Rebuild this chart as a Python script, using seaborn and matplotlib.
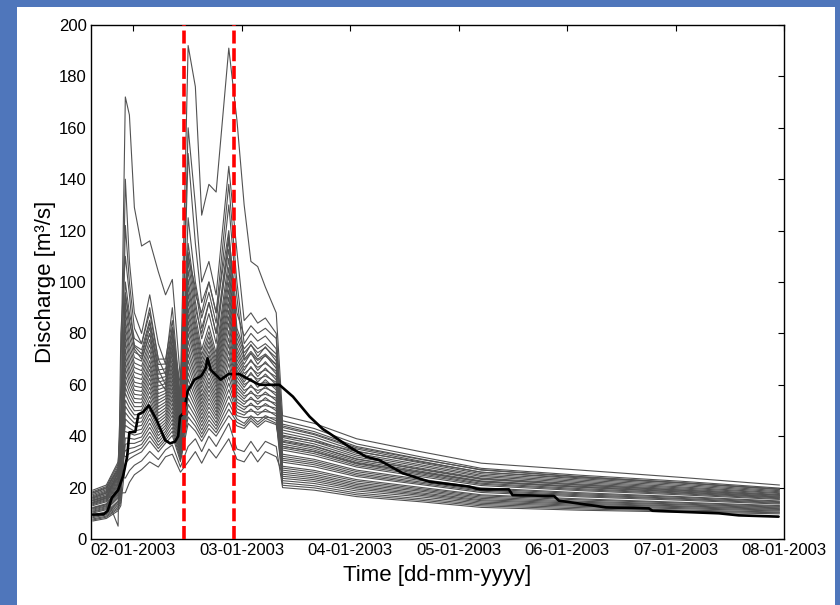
import matplotlib
matplotlib.use("Agg")
import matplotlib.pyplot as plt
import matplotlib.dates as mdates
from matplotlib.patches import Rectangle
import numpy as np
import pandas as pd
import seaborn as sns

# ---------------- data (hours since 2003-01-01 00:00) ----------------
hours = [15.0, 18.0, 20.6, 21.2, 22.2, 23.1, 24.2, 25.8, 27.6, 29.5, 31.1, 32.6, 34.4,
         36.1, 37.7, 39.1, 40.7, 42.3, 45.1, 46.9, 48.5, 50.0, 51.5, 53.2, 55.6,
         57.0, 64.0, 73.4, 87.5, 101.0, 123.0, 145.0, 167.0]

ens_01 = [8.7, 9.8, 13.7, 17.9, 18, 22, 25, 27, 30, 28, 32, 33, 26, 30, 34, 29.5, 35, 31.5, 39, 31, 30, 34, 30, 34, 32, 25.2, 23.8, 20.6, 18, 15.3, 13.9, 12.9, 11.8]
ens_02 = [10.8, 12.2, 17.1, 24.2, 23.7, 26.6, 28.7, 30.4, 34.1, 30.9, 34.7, 36.6, 28, 36, 39, 34, 40, 36, 45, 35, 34, 38, 34, 38, 36, 20, 19, 16.5, 14.5, 12.3, 11.2, 10.5, 9.8]
ens_03 = [7, 8, 11, 13, 29.5, 31.2, 32.4, 33.9, 38.1, 33.9, 37.3, 40.3, 30.1, 45, 42, 38, 43, 40, 48, 44, 43, 46, 43.5, 46, 44.5, 29.9, 28.1, 24.3, 21.2, 18.1, 16.4, 15.1, 13.6]
ens_04 = [13, 14.5, 20.5, 30.5, 34.4, 35.2, 35.6, 36.8, 41.6, 36.4, 39.6, 43.4, 31.8, 49.9, 45.7, 40.9, 46.3, 42.7, 53, 46.7, 45, 48, 45.5, 48, 46, 21.8, 20.7, 17.9, 15.7, 13.4, 12.2, 11.3, 10.5]
ens_05 = [9.4, 10.6, 14.8, 20, 39.3, 39.2, 38.8, 39.7, 45.1, 38.9, 41.9, 46.5, 33.5, 54.8, 49.4, 43.9, 49.6, 45.3, 58.1, 49.3, 48.2, 50.6, 48.2, 50.5, 47.9, 34.6, 32.4, 28, 24.3, 20.8, 18.8, 17.2, 15.4]
ens_06 = [15.2, 16.8, 23.9, 36.8, 44.2, 43.1, 42, 42.7, 48.6, 41.4, 44.2, 49.6, 35.3, 59.7, 53.1, 46.8, 52.9, 48, 63.1, 52, 50.3, 52.9, 50.3, 52.7, 49.9, 26.8, 25.2, 21.8, 19.1, 16.3, 14.7, 13.6, 12.4]
ens_07 = [7.8, 8.9, 12.3, 15.5, 49.2, 47.1, 45.1, 45.6, 52, 44, 46.4, 52.8, 37, 64.6, 56.8, 49.8, 56.2, 50.6, 68.2, 54.6, 52.4, 55.2, 52.4, 55, 51.8, 39.5, 37, 31.9, 27.6, 23.7, 21.4, 19.5, 17.3]
ens_08 = [11.6, 12.9, 18.2, 26.3, 54.1, 51, 48.3, 48.6, 55.5, 46.5, 48.7, 55.9, 38.8, 69.5, 60.6, 52.7, 59.5, 53.3, 73.2, 57.3, 54.5, 57.6, 54.5, 57.2, 53.8, 23.6, 22.4, 19.4, 17, 14.4, 13.1, 12.2, 11.2]
ens_09 = [16.8, 18.7, 26.6, 41.7, 59, 55, 51.5, 51.5, 59, 49, 51, 59, 40.5, 74.4, 64.3, 55.6, 62.7, 56, 78.2, 60, 56.6, 59.9, 56.6, 59.4, 55.8, 33, 31, 26.8, 23.3, 19.9, 18, 16.5, 14.8]
ens_10 = [10.1, 11.4, 15.9, 22.1, 63.9, 59, 54.7, 54.4, 62.5, 51.5, 53.3, 62.1, 42.2, 80, 68.5, 59, 66.5, 59, 84, 63, 59, 62.5, 59, 62, 58, 43.4, 40.6, 35, 30.3, 26, 23.4, 21.3, 18.8]
ens_11 = [13.7, 15.3, 21.6, 32.6, 68.8, 62.9, 57.9, 57.4, 66, 54, 55.6, 65.2, 44, 84.9, 72.2, 61.9, 69.8, 61.7, 89, 65.7, 61.1, 64.8, 61.1, 64.2, 60, 28.3, 26.7, 23.1, 20.1, 17.2, 15.6, 14.3, 13]
ens_12 = [19, 21, 30, 48, 73.8, 66.9, 61, 60.3, 69.4, 56.6, 57.8, 68.4, 45.7, 89.8, 75.9, 64.9, 73.1, 64.3, 94.1, 68.3, 63.2, 67.1, 63.2, 66.5, 61.9, 37.7, 35.3, 30.4, 26.4, 22.6, 20.5, 18.7, 16.6]
ens_13 = [12.3, 13.7, 19.4, 28.4, 79.5, 71.5, 64.8, 63.8, 73.5, 59.5, 60.5, 72, 47.8, 95.4, 80.2, 68.2, 76.8, 67.4, 99.8, 71.4, 65.6, 69.8, 65.6, 69, 64.2, 31.4, 29.6, 25.5, 22.2, 19, 17.2, 15.8, 14.2]
ens_14 = [16, 17.8, 25.3, 39.3, 85.2, 76.1, 68.5, 67.2, 77.6, 62.4, 63.2, 75.6, 49.8, 101, 84.4, 71.6, 80.6, 70.4, 105.6, 74.4, 68, 72.4, 68, 71.6, 66.4, 46, 43, 37, 32, 27.5, 24.8, 22.5, 19.8]
ens_15 = [14.4, 16.1, 22.8, 34.7, 91.8, 81.4, 72.7, 71.1, 82.2, 65.8, 66.2, 79.8, 52.1, 108, 89.7, 80, 92, 80, 112.8, 78.2, 71, 75.7, 71, 74.8, 69.2, 36.1, 33.9, 29.2, 25.4, 21.7, 19.6, 17.9, 16]
ens_16 = [17.8, 19.7, 28.1, 44.5, 100, 88, 78, 76, 88, 70, 70, 85, 55, 115, 95, 88, 100, 88, 120, 82, 74, 77, 74, 76, 72, 41.3, 38.7, 33.3, 28.9, 24.8, 22.4, 20.3, 18]
ens_17 = [14, 16, 26, 60, 172, 165, 129, 114, 116, 104, 95, 101, 62, 110, 98, 82, 92, 80, 118, 88, 79, 83, 80, 82, 78, 40, 38, 34, 30, 26, 23.8, 21.8, 19.3]
ens_18 = [18, 20, 27, 40, 95, 85, 75, 72, 84, 66, 60, 78, 60, 192, 176, 126, 138, 135, 191, 163, 130, 108, 106, 98, 88, 48, 45, 39, 34, 29.5, 26.8, 24, 21]
ens_19 = [12, 13.5, 20, 45, 140, 108, 88, 80, 95, 76, 68, 90, 54, 160, 130, 100, 108, 95, 145, 112, 85, 88, 84, 86, 80, 44, 41, 35.5, 31, 27, 24.3, 22, 19.5]
ens_20 = [15, 16.5, 5, 80, 110, 95, 74, 70, 80, 62, 58, 74, 48, 125, 100, 86, 96, 84, 130, 94, 70, 73, 70, 72, 68, 36, 34, 29.5, 26, 22.4, 20.2, 18.3, 16.3]
ens_21 = [16, 18, 24, 42, 122, 100, 82, 76, 90, 70, 64, 82, 50, 150, 115, 92, 100, 88, 138, 100, 76, 80, 77, 79, 74, 38, 36, 31, 27.2, 23.4, 21, 19, 17]
ens_22 = [14.1, 15.7, 22.2, 33.7, 32.0, 33.2, 34, 35.4, 39.9, 35.2, 38.5, 41.9, 31, 47.5, 43.9, 39.5, 44.7, 41.4, 50.5, 45.4, 44, 47, 44.5, 47, 45, 32.2, 30.3, 26.2, 22.8, 19.5, 17.6, 16.2, 14.5]
ens_23 = [9.1, 10.2, 14.3, 19, 36.9, 37.2, 37.2, 38.3, 43.4, 37.7, 40.8, 45, 32.7, 52.4, 47.6, 42.4, 48, 44, 55.6, 48, 47.2, 47.5, 47.2, 47.4, 47, 22.7, 21.6, 18.7, 16.4, 13.9, 12.7, 11.8, 10.9]
ens_24 = [16.4, 18.3, 26, 40.5, 41.8, 41.2, 40.4, 41.2, 46.9, 40.2, 43.1, 48.1, 34.4, 57.3, 51.3, 45.4, 51.3, 46.7, 60.6, 50.7, 49.3, 49.8, 49.3, 49.6, 48.9, 36.9, 34.6, 29.8, 25.9, 22.2, 20.1, 18.3, 16.3]
ens_25 = [7.4, 8.5, 11.7, 14.3, 46.7, 45.1, 43.6, 44.2, 50.3, 42.7, 45.3, 51.2, 36.2, 62.2, 55, 48.3, 54.6, 49.3, 65.7, 53.3, 51.4, 52.1, 51.4, 51.9, 50.9, 27.6, 26, 22.5, 19.6, 16.8, 15.2, 14, 12.7]
ens_26 = [12, 13.3, 18.8, 27.4, 51.7, 49.1, 46.7, 47.1, 53.8, 45.3, 47.6, 54.4, 37.9, 67.1, 58.7, 51.3, 57.9, 52, 70.7, 56, 53.5, 54.4, 53.5, 54.1, 52.8, 42.4, 39.7, 34.2, 29.6, 25.4, 22.9, 20.8, 18.4]
ens_27 = [18.4, 20.4, 29.1, 46.3, 56.6, 53, 49.9, 50.1, 57.3, 47.8, 49.9, 57.5, 39.7, 72, 62.5, 54.2, 61.1, 54.7, 75.7, 58.7, 55.6, 56.8, 55.6, 56.3, 54.8, 20.9, 19.9, 17.2, 15.1, 12.9, 11.7, 10.9, 10.2]
ens_28 = [10.5, 11.8, 16.5, 23.2, 61.5, 57, 53.1, 53, 60.8, 50.3, 52.2, 60.6, 41.4, 77.2, 66.4, 57.3, 64.6, 57.5, 81.1, 61.5, 57.8, 59.2, 57.8, 58.7, 56.9, 35.4, 33.2, 28.6, 24.9, 21.3, 19.2, 17.6, 15.7]
ens_29 = [15.6, 17.3, 24.6, 38.1, 66.4, 61, 56.3, 55.9, 64.3, 52.8, 54.5, 63.7, 43.1, 82.5, 70.4, 60.5, 68.2, 60.4, 86.5, 64.4, 60.1, 61.7, 60.1, 61.1, 59, 26, 24.5, 21.2, 18.6, 15.8, 14.3, 13.3, 12.1]
ens_30 = [8.3, 9.4, 13, 16.7, 71.3, 64.9, 59.5, 58.9, 67.7, 55.3, 56.7, 66.8, 44.9, 87.4, 74.1, 63.4, 71.5, 63, 91.6, 67, 62.2, 64, 62.2, 63.4, 61, 40.4, 37.9, 32.6, 28.3, 24.3, 21.9, 19.9, 17.7]
ens_31 = [13.4, 14.9, 21.1, 31.6, 76.7, 69.2, 62.9, 62.1, 71.5, 58.1, 59.2, 70.2, 46.8, 92.6, 78.1, 66.6, 75, 65.9, 97, 69.9, 64.4, 66.5, 64.4, 65.8, 63.1, 30.7, 28.9, 24.9, 21.7, 18.6, 16.8, 15.5, 13.9]
ens_32 = [17.3, 19.2, 27.4, 43.1, 82.4, 73.8, 66.7, 65.5, 75.6, 61, 61.9, 73.8, 48.8, 98.2, 82.3, 69.9, 78.7, 68.9, 102.7, 72.9, 66.8, 69.1, 66.8, 68.3, 65.3, 44.7, 41.8, 36, 31.2, 26.8, 24.1, 21.9, 19.3]
ens_33 = [11.2, 12.6, 17.7, 25.3, 88.5, 78.8, 70.6, 69.2, 79.9, 64.1, 64.7, 77.7, 51, 104.5, 87.1, 73.7, 83, 72.3, 109.2, 76.3, 69.5, 72.1, 69.5, 71.2, 67.8, 24.4, 23.1, 20, 17.5, 14.9, 13.5, 12.6, 11.5]
ens_34 = [14.8, 16.5, 23.4, 35.8, 95.9, 84.7, 75.4, 73.6, 85.1, 67.9, 68.1, 82.4, 53.6, 111.5, 92.4, 77.9, 87.7, 76.1, 116.4, 80.1, 72.5, 75.4, 72.5, 74.4, 70.6, 38.6, 36.2, 31.2, 27, 23.2, 21, 19.1, 17]

obs_hours = [15.0, 17.4, 18.3, 19.2, 20.6, 21.7, 22.6, 23.1, 24.4, 25.1,
             26.2, 27.4, 29.2, 31.0, 32.1, 33.2, 33.9, 34.3, 35.1, 36.0,
             37.5, 39.0, 40.0, 40.4, 41.1, 43.3, 45.1, 47.4, 49.7, 51.9,
             56.3, 59.3, 63.0, 65.9, 67.4, 71.7, 75.5, 78.4, 83.6, 89.5,
             98.3, 100.6, 107.1, 107.9, 117.1, 118.2, 128.6, 138.1, 138.9, 153.6,
             158.0, 166.8]
obs_q = [9.5, 9.6, 11.0, 16.0, 19.0, 24.5, 32.0, 41.5, 41.7, 48.5,
         49.5, 52.0, 46.0, 38.5, 37.2, 37.9, 40.0, 47.6, 49.0, 57.5,
         62.0, 63.4, 66.5, 70.3, 65.8, 62.0, 64.2, 64.2, 62.0, 60.0,
         60.0, 55.4, 47.6, 42.8, 41.1, 35.9, 32.0, 30.7, 25.6, 22.3,
         20.4, 19.3, 19.3, 17.1, 16.7, 14.9, 12.3, 11.9, 11.0, 10.0,
         9.2, 8.7]

event_hours = [35.25, 46.25]
y_ticks = [0, 20, 40, 60, 80, 100, 120, 140, 160, 180, 200]
x_label = "Time [dd-mm-yyyy]"
y_label = "Discharge [m³/s]"

# ---------------- build tables ----------------
start = pd.Timestamp("2003-01-01 00:00")
members = [ens_01, ens_02, ens_03, ens_04, ens_05, ens_06, ens_07, ens_08, ens_09,
           ens_10, ens_11, ens_12, ens_13, ens_14, ens_15, ens_16, ens_17, ens_18,
           ens_19, ens_20, ens_21, ens_22, ens_23, ens_24, ens_25, ens_26, ens_27,
           ens_28, ens_29, ens_30, ens_31, ens_32, ens_33, ens_34]
rows = []
for i, vals in enumerate(members):
    for h, v in zip(hours, vals):
        rows.append((f"e{i:02d}", start + pd.Timedelta(hours=h), v))
ens_df = pd.DataFrame(rows, columns=["member", "time", "q"])
obs_df = pd.DataFrame({"time": [start + pd.Timedelta(hours=h) for h in obs_hours],
                       "q": obs_q})

# ---------------- figure ----------------
sns.set_theme(style="white")
plt.rcParams["font.family"] = ["Liberation Sans", "DejaVu Sans"]

W, H = 840, 605
fig = plt.figure(figsize=(W / 100, H / 100), dpi=100)
fig.patch.set_facecolor("#4f76bb")
fig.add_artist(Rectangle((17 / W, 0), (835 - 17) / W, 1 - 7 / H,
                         transform=fig.transFigure, facecolor="white",
                         edgecolor="none", zorder=-5))

ax = fig.add_axes([91 / W, 1 - 539 / H, (784 - 91) / W, (539 - 25) / H])
ax.set_facecolor("white")

sns.lineplot(data=ens_df, x="time", y="q", units="member", estimator=None,
             color="#525252", lw=0.8, ax=ax, legend=False)
sns.lineplot(data=obs_df, x="time", y="q", color="black", lw=1.9, ax=ax,
             estimator=None, sort=False)

for h in event_hours:
    ax.axvline(start + pd.Timedelta(hours=h), color="#ff0000", lw=2.6,
               linestyle=(0, (3.6, 1.3)), zorder=5)

ax.set_xlim(start + pd.Timedelta(hours=14.6), start + pd.Timedelta(hours=168.0))
ax.set_ylim(0, 200)
ax.set_yticks(y_ticks)
ax.xaxis.set_major_locator(mdates.DayLocator())
ax.xaxis.set_major_formatter(mdates.DateFormatter("%d-%m-%Y"))

ax.tick_params(direction="in", top=True, right=True, length=4, width=0.8,
               labelsize=12, colors="black", pad=3)
for s in ax.spines.values():
    s.set_color("black")
    s.set_linewidth(1.0)

ax.set_xlabel(x_label, fontsize=16, color="black", labelpad=5)
ax.set_ylabel(y_label, fontsize=16, color="black", labelpad=2)

fig.savefig("out.png", dpi=100, facecolor=fig.get_facecolor())
